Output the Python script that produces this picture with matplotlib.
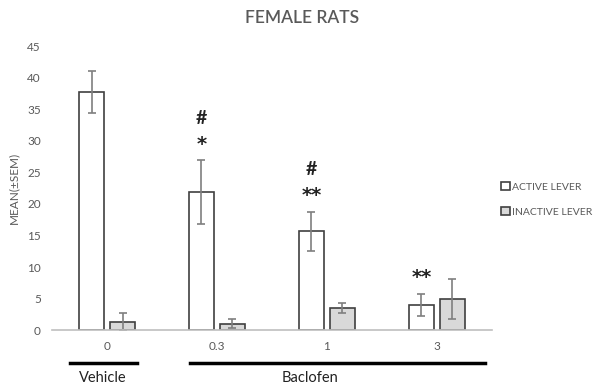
import matplotlib.pyplot as plt
import numpy as np

plt.rcParams['font.family'] = ['Lato', 'DejaVu Sans']

doses = ['0', '0.3', '1', '3']
active = [37.7, 21.9, 15.7, 4.0]
active_sem = [3.3, 5.0, 3.1, 1.8]
inactive = [1.3, 1.0, 3.5, 4.9]
inactive_sem = [1.4, 0.7, 0.8, 3.2]
stars = ['', '*', '**', '**']
hashes = ['', '#', '#', '']

gray = '#595959'
fig = plt.figure(figsize=(6.05, 3.88), dpi=100)
ax = fig.add_axes([0.086, 0.149, 0.727, 0.732])

x = np.arange(len(doses))
w = 0.227
off = 0.141
err_kw = dict(ecolor='#7f7f7f', elinewidth=1.2, capsize=3, capthick=1.2)
ax.bar(x - off, active, w, yerr=active_sem, color='white', edgecolor='#404040',
       linewidth=1.2, error_kw=err_kw, label='ACTIVE LEVER', zorder=2)
ax.bar(x + off, inactive, w, yerr=inactive_sem, color='#d9d9d9', edgecolor='#404040',
       linewidth=1.2, error_kw=err_kw, label='INACTIVE LEVER', zorder=2)

for i in range(len(doses)):
    top = active[i] + active_sem[i]
    if stars[i]:
        ax.text(x[i] - off, top + 1.0, stars[i], ha='center', va='bottom',
                fontsize=14, fontweight='bold', color='#222222', family='DejaVu Sans')
    if hashes[i]:
        ax.text(x[i] - off, top + 5.3, hashes[i], ha='center', va='bottom',
                fontsize=14, fontweight='bold', color='#222222')

ax.set_xlim(-0.5, 3.5)
ax.set_ylim(0, 45)
ax.set_yticks(range(0, 50, 5))
ax.set_xticks(x)
ax.set_xticklabels(doses)
ax.tick_params(length=0, colors=gray, labelsize=8.5, pad=8)
for s in ['top', 'right', 'left']:
    ax.spines[s].set_visible(False)
ax.spines['bottom'].set_color('#bfbfbf')
ax.spines['bottom'].set_linewidth(1.2)
ax.set_ylabel('MEAN(±SEM)', color=gray, fontsize=8.5, labelpad=6)
fig.text(0.5, 1 - 18 / 388, 'FEMALE RATS', color=gray, fontsize=12.5,
         fontweight='semibold', ha='center', va='center')

# group lines under the axis
trans = ax.get_xaxis_transform()
ax.plot([-0.336, 0.273], [-0.116, -0.116], color='black', lw=2.5, transform=trans, clip_on=False)
ax.plot([0.755, 3.436], [-0.116, -0.116], color='black', lw=2.5, transform=trans, clip_on=False)
ax.text(-0.04, -0.17, 'Vehicle', transform=trans, ha='center', va='center', fontsize=10.5, color='#222222')
ax.text(1.85, -0.17, 'Baclofen', transform=trans, ha='center', va='center', fontsize=10.5, color='#222222')

leg = ax.legend(loc='upper left', bbox_to_anchor=(1.0, 0.555), frameon=False, fontsize=7.5,
                handlelength=0.8, handleheight=0.8, handletextpad=0.2, labelspacing=1.5)
for t in leg.get_texts():
    t.set_color(gray)

fig.savefig('out.png', dpi=100)
